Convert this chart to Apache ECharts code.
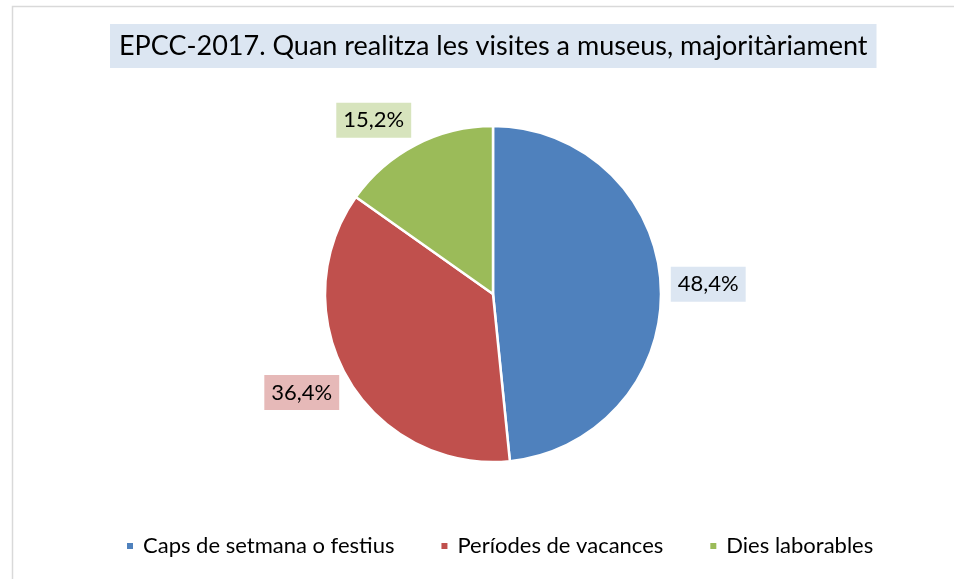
<!DOCTYPE html>
<html>
<head>
<meta charset="utf-8">
<script src="https://cdn.jsdelivr.net/npm/echarts@6/dist/echarts.min.js"></script>
<style>
  html, body { margin: 0; padding: 0; background: #ffffff; }
  #chart { width: 954px; height: 579px; }
</style>
</head>
<body>
<div id="chart"></div>
<script>
// EPCC-2017: when museum visits mostly happen (share of respondents, %)
const titleText = 'EPCC-2017. Quan realitza les visites a museus, majoritàriament';
const categories = ['Caps de setmana o festius', 'Períodes de vacances', 'Dies laborables'];
const shares = [48.4, 36.4, 15.2];
const sliceColors = ['#4F81BD', '#C0504D', '#9BBB59'];
const labelFills = ['#DCE6F2', '#E6B9B8', '#D7E4BD'];

const FONT = 'Lato, "Open Sans", sans-serif';
const CX = 493, CY = 294, R = 168;
const LABEL_GAP = 10;

const total = shares.reduce((a, b) => a + b, 0);
// mid-angle of every slice, measured clockwise from 12 o'clock
const midAngles = [];
let acc = 0;
shares.forEach(v => {
  midAngles.push(2 * Math.PI * (acc + v / 2) / total);
  acc += v;
});

const fmtPct = v => v.toFixed(1).replace('.', ',') + '%';

const chart = echarts.init(document.getElementById('chart'), null, { renderer: 'canvas' });

chart.setOption({
  backgroundColor: '#ffffff',
  animation: false,
  graphic: [{
    type: 'rect',
    shape: { x: 12.5, y: 6.5, width: 1000, height: 700 },
    style: { fill: 'none', stroke: '#d9d9d9', lineWidth: 1.5 },
    silent: true,
    z: -1
  }],
  title: {
    text: titleText,
    left: 110,
    top: 24,
    padding: [9, 9, 8, 9],
    backgroundColor: '#DCE6F2',
    textStyle: { fontFamily: FONT, fontSize: 27, fontWeight: 'normal', color: '#000000' }
  },
  legend: {
    bottom: 17,
    left: 120,
    icon: 'rect',
    itemWidth: 8,
    itemHeight: 8,
    itemGap: 45,
    textStyle: { fontFamily: FONT, fontSize: 22, color: '#000000', padding: [0, 0, 0, 4] },
    data: categories
  },
  series: [{
    type: 'pie',
    center: [CX, CY],
    radius: R,
    startAngle: 90,
    clockwise: true,
    avoidLabelOverlap: false,
    itemStyle: { borderColor: '#ffffff', borderWidth: 2.5 },
    label: {
      show: true,
      position: 'outside',
      fontFamily: FONT,
      fontSize: 22,
      color: '#000000',
      padding: [7, 7, 6, 7],
      formatter: p => fmtPct(p.value)
    },
    labelLine: { show: false },
    labelLayout: params => {
      const a = midAngles[params.dataIndex];
      const dx = Math.sin(a), dy = -Math.cos(a);
      const ax = CX + (R + LABEL_GAP) * dx;
      const ay = CY + (R + LABEL_GAP) * dy;
      const h = params.labelRect.height;
      return {
        x: ax,
        y: ay + dy * h / 2,
        align: dx >= 0 ? 'left' : 'right',
        verticalAlign: 'middle'
      };
    },
    emphasis: { disabled: true },
    data: categories.map((name, i) => ({
      name,
      value: shares[i],
      itemStyle: { color: sliceColors[i] },
      label: { backgroundColor: labelFills[i] }
    }))
  }]
});
</script>
</body>
</html>
